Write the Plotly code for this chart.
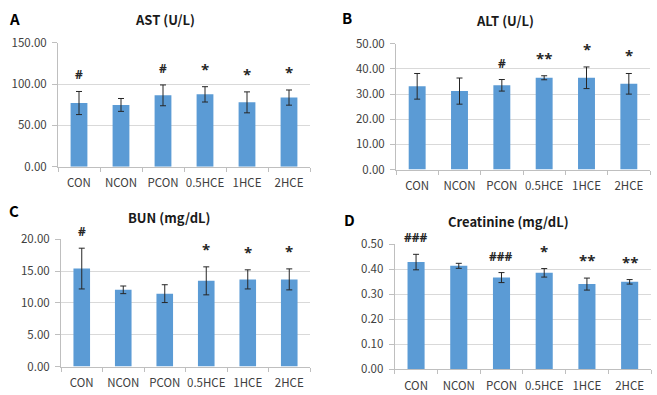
import plotly.graph_objects as go

groups = ["CON", "NCON", "PCON", "0.5HCE", "1HCE", "2HCE"]

ast_mean = [77.1, 74.8, 86.4, 87.6, 77.9, 83.7]
ast_sd = [14.0, 7.8, 12.6, 9.3, 12.7, 9.2]
ast_sig = ["#", "", "#", "*", "*", "*"]

alt_mean = [33.1, 31.2, 33.5, 36.5, 36.5, 34.1]
alt_sd = [5.1, 5.2, 2.3, 0.8, 4.3, 4.1]
alt_sig = ["", "", "#", "**", "*", "*"]

bun_mean = [15.4, 12.06, 11.46, 13.47, 13.7, 13.7]
bun_sd = [3.2, 0.6, 1.4, 2.2, 1.5, 1.65]
bun_sig = ["#", "", "", "*", "*", "*"]

cre_mean = [0.428, 0.413, 0.366, 0.385, 0.340, 0.349]
cre_sd = [0.031, 0.010, 0.020, 0.017, 0.024, 0.009]
cre_sig = ["###", "", "###", "*", "**", "**"]

panels = [
    dict(letter="A", title="AST (U/L)", mean=ast_mean, sd=ast_sd, sig=ast_sig, ymax=150, dtick=50),
    dict(letter="B", title="ALT (U/L)", mean=alt_mean, sd=alt_sd, sig=alt_sig, ymax=50, dtick=10),
    dict(letter="C", title="BUN (mg/dL)", mean=bun_mean, sd=bun_sd, sig=bun_sig, ymax=20, dtick=5),
    dict(letter="D", title="Creatinine (mg/dL)", mean=cre_mean, sd=cre_sd, sig=cre_sig, ymax=0.5, dtick=0.1),
]

W, H = 657, 395
# pixel boxes: left, right, top, bottom
boxes = [(58, 310, 35.3, 164.3), (396, 650, 36.3, 167.3), (61, 310, 240, 372.7), (394.7, 651, 245, 375.3)]
title_pos = [(165, 11), (505, 12), (169, 217), (508, 221)]
letter_pos = [(7, 10), (340, 9), (7, 210), (342, 219)]

FONT = "Noto Sans CJK KR"
SIGFONT = "Open Sans"
BAR = "#5B9BD5"
GRID = "#D9D9D9"
AXIS = "#BFBFBF"
TICKC = "#404040"

fig = go.Figure()
annotations = []
for i, p in enumerate(panels):
    n = "" if i == 0 else str(i + 1)
    xa, ya = "x" + n, "y" + n
    fig.add_trace(go.Bar(
        x=groups, y=p["mean"], xaxis=xa, yaxis=ya,
        marker=dict(color=BAR, line=dict(width=0)),
        error_y=dict(type="data", array=p["sd"], visible=True, color="#262626", thickness=1, width=3),
        showlegend=False,
    ))
    l, r, t, b = boxes[i]
    fig.layout["xaxis" + n] = dict(
        domain=[l / W, r / W], anchor=ya, type="category",
        showline=True, linecolor=AXIS, linewidth=1,
        ticks="outside", tickson="boundaries", ticklen=4, tickcolor=AXIS,
        tickfont=dict(family=FONT, size=11.5, color=TICKC), tickangle=0,
        ticklabelstandoff=6,
        showgrid=False, fixedrange=True,
    )
    fig.layout["yaxis" + n] = dict(
        domain=[1 - b / H, 1 - t / H], anchor=xa,
        range=[0, p["ymax"]], dtick=p["dtick"], tickformat=".2f",
        showline=True, linecolor=AXIS, linewidth=1,
        showgrid=True, gridcolor=GRID, gridwidth=1, zeroline=False,
        ticks="outside", ticklen=5, tickcolor=AXIS, ticklabelstandoff=3,
        tickfont=dict(family=FONT, size=11.5, color=TICKC),
        fixedrange=True,
    )
    tx, ty = title_pos[i]
    annotations.append(dict(text="<b>%s</b>" % p["title"], x=tx / W, y=1 - ty / H, xref="paper", yref="paper",
                            xanchor="center", yanchor="middle", showarrow=False,
                            font=dict(family=FONT, size=13, color="#1a1a1a")))
    lx, ly = letter_pos[i]
    annotations.append(dict(text="<b>%s</b>" % p["letter"], x=lx / W, y=1 - ly / H, xref="paper", yref="paper",
                            xanchor="left", yanchor="middle", showarrow=False,
                            font=dict(family=FONT, size=15, color="#000000")))
    for g, m, s, sig in zip(groups, p["mean"], p["sd"], p["sig"]):
        if sig:
            is_star = sig.startswith("*")
            annotations.append(dict(text="<b>%s</b>" % sig, x=g, y=m + s, xref=xa, yref=ya,
                                    xanchor="center", yanchor="bottom", showarrow=False,
                                    yshift=6,
                                    font=dict(family=SIGFONT, size=15 if is_star else 12, color="#262626")))

fig.update_layout(
    width=W, height=H, margin=dict(l=0, r=0, t=0, b=0),
    paper_bgcolor="white", plot_bgcolor="white",
    bargap=0.6, annotations=annotations,
)

fig.write_html("out.html")
